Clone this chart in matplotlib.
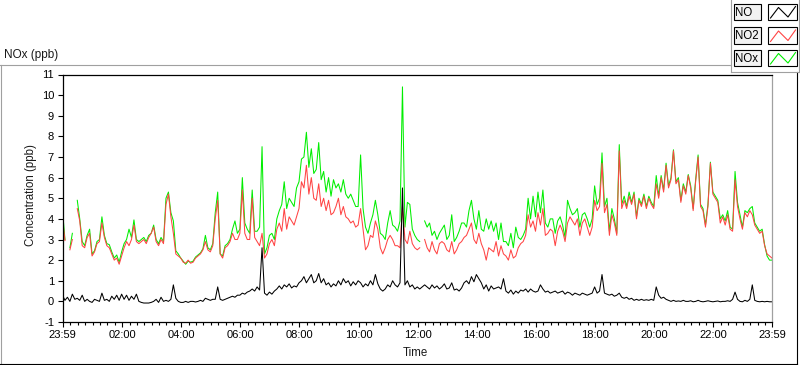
import numpy as np
import matplotlib
matplotlib.use("Agg")
import matplotlib.pyplot as plt
from matplotlib.lines import Line2D
from matplotlib.patches import Rectangle

plt.rcParams["font.family"] = ["Liberation Sans", "DejaVu Sans"]

nan = float("nan")

# one sample every 5 minutes, starting at 23:59 of the previous day
SAMPLE_MIN = 5

no_ppb = [
    0.3, 0.05, 0.2, 0.0, 0.35, 0.1, 0.15, 0.05, 0.3, 0.0, 0.1, 0.0,
    -0.05, 0.1, 0.05, 0.0, 0.4, 0.05, 0.1, 0.0, 0.25, 0.1, 0.3, 0.05,
    0.35, 0.1, 0.3, 0.05, 0.25, 0.1, 0.35, 0.0, -0.05, -0.08, -0.08, -0.08,
    -0.05, 0.0, 0.1, -0.05, 0.2, 0.0, 0.05, 0.0, 0.1, 0.8, 0.15, 0.0,
    -0.05, -0.05, 0.0, -0.05, 0.0, 0.0, -0.03, 0.0, 0.05, 0.0, 0.15, 0.1,
    0.05, 0.1, 0.1, 0.7, 0.1, 0.05, 0.1, 0.15, 0.2, 0.25, 0.2, 0.3,
    0.3, 0.4, 0.35, 0.45, 0.5, 0.6, 0.5, 0.7, 0.55, 2.6, 0.4, 0.3,
    0.45, 0.35, 0.5, 0.6, 0.75, 0.6, 0.8, 0.7, 0.85, 0.65, 0.75, 0.7,
    0.9, 1.0, 1.2, 0.9, 1.1, 1.3, 0.9, 1.0, 1.35, 0.9, 1.1, 0.8,
    0.9, 0.7, 0.85, 0.75, 1.0, 0.8, 1.1, 0.9, 1.0, 0.75, 0.95, 0.8,
    1.0, 0.9, 0.7, 0.85, 0.75, 1.0, 0.8, 1.3, 0.85, 0.6, 0.5, 0.6,
    0.8, 0.7, 1.0, 0.8, 0.7, 0.9, 5.5, 0.8, 1.0, 0.7, 0.8, 0.6,
    0.7, 0.6, 0.7, 0.8, 0.7, 0.6, 0.8, 0.65, 0.75, 0.6, 0.7, 0.85,
    0.6, 0.65, 0.9, 0.55, 0.6, 0.5, 0.65, 0.9, 1.0, 0.85, 1.2, 0.95,
    1.3, 1.1, 0.9, 0.6, 0.8, 0.5, 0.75, 0.6, 0.65, 0.7, 0.6, 1.1,
    0.5, 0.4, 0.55, 0.35, 0.5, 0.4, 0.55, 0.5, 0.6, 0.45, 0.6, 0.5,
    0.45, 0.5, 0.8, 0.6, 0.45, 0.5, 0.4, 0.45, 0.5, 0.4, 0.45, 0.5,
    0.35, 0.45, 0.4, 0.3, 0.4, 0.35, 0.3, 0.4, 0.35, 0.3, 0.35, 0.4,
    0.7, 0.4, 0.5, 1.3, 0.4, 0.35, 0.3, 0.35, 0.25, 0.3, 0.4, 0.2,
    0.15, 0.2, 0.1, 0.15, 0.05, 0.1, 0.05, 0.1, 0.05, 0.08, 0.05, 0.1,
    0.05, 0.7, 0.3, 0.15, 0.2, 0.1, 0.05, 0.0, 0.05, 0.0, 0.02, 0.0,
    0.05, 0.0, 0.0, 0.03, -0.02, 0.0, 0.05, 0.0, -0.02, 0.0, 0.03, 0.0,
    -0.02, 0.0, 0.02, -0.02, 0.0, 0.0, 0.03, 0.0, 0.1, 0.45, 0.1, 0.0,
    -0.02, 0.05, 0.0, 0.1, 0.8, 0.05, 0.0, -0.02, 0.0, -0.02, 0.0, -0.02,
    -0.02,
]

no2_ppb = [
    4.0, 2.95, nan, 2.5, 3.0, nan, 4.5, 3.9, 2.7, 2.6, 3.1, 3.3,
    2.2, 2.4, 2.8, 2.9, 3.8, 3.1, 2.7, 2.6, 2.3, 2.0, 2.1, 1.8,
    2.2, 2.6, 2.9, 2.7, 3.0, 3.7, 2.9, 2.8, 2.9, 3.0, 2.8, 3.1,
    3.3, 3.6, 2.9, 2.7, 3.0, 2.8, 4.7, 5.2, 4.1, 3.3, 2.3, 2.2,
    2.1, 1.9, 1.85, 2.0, 1.85, 1.9, 2.1, 2.2, 2.3, 2.5, 2.9, 2.5,
    2.4, 2.7, 4.0, 4.9, 2.3, 2.1, 2.6, 2.7, 2.9, 3.3, 3.0, 3.0,
    3.3, 5.4, 3.3, 3.0, 3.0, 5.0, 3.1, 2.9, 2.7, 3.3, 2.1, 2.3,
    2.8, 3.0, 2.7, 3.5, 3.8, 3.4, 4.5, 3.5, 4.1, 3.9, 3.7, 4.1,
    4.5, 5.8, 5.5, 6.6, 5.2, 6.0, 5.0, 4.9, 5.7, 4.6, 5.0, 4.4,
    4.9, 4.2, 4.3, 4.6, 5.0, 4.2, 4.6, 4.1, 4.0, 3.8, 3.9, 3.6,
    3.7, 4.5, 3.5, 2.5, 2.7, 3.2, 3.1, 3.9, 3.5, 2.6, 2.3, 2.6,
    3.0, 3.2, 3.0, 2.7, 2.7, 2.6, 4.6, 3.0, 2.8, 3.4, 2.8, 2.6,
    2.5, 2.6, nan, 3.0, 2.6, 2.4, 2.9, 2.5, 2.3, 2.8, 2.9, 2.8,
    2.5, 2.4, 2.9, 2.3, 2.5, 2.8, 2.9, 3.1, 3.2, 3.5, 3.8, 3.0,
    2.8, 3.3, 2.8, 2.5, 2.0, 2.6, 2.5, 2.4, 2.9, 2.2, 2.7, 2.3,
    2.2, 2.0, 2.5, 2.1, 2.2, 2.6, 2.8, 2.9, 3.2, 4.2, 3.6, 3.9,
    3.4, 4.3, 3.7, 4.5, 3.2, 3.3, 3.5, 3.4, 2.7, 3.4, 3.7, 3.4,
    2.9, 3.8, 4.1, 3.9, 3.7, 4.0, 3.2, 3.8, 4.0, 3.6, 3.2, 3.6,
    4.9, 4.4, 4.6, 6.7, 4.3, 4.7, 3.2, 4.2, 3.8, 3.2, 7.3, 4.5,
    4.9, 4.5, 5.1, 4.7, 5.2, 4.0, 4.9, 4.6, 5.1, 4.5, 5.0, 4.7,
    4.5, 5.7, 5.0, 6.0, 5.3, 6.6, 5.5, 5.9, 7.3, 5.7, 5.9, 4.8,
    5.6, 5.2, 6.1, 5.5, 4.4, 5.8, 7.0, 4.6, 4.4, 3.6, 4.6, 6.7,
    5.2, 5.0, 4.8, 3.8, 4.1, 3.7, 4.2, 3.5, 3.4, 5.9, 4.6, 4.0,
    3.5, 4.3, 4.1, 4.4, 4.2, 3.7, 3.5, 3.3, 3.4, 2.7, 2.3, 2.2,
    2.1,
]

nox_ppb = [
    4.4, 3.0, nan, 2.6, 3.3, nan, 4.9, 4.0, 2.9, 2.7, 3.2, 3.5,
    2.3, 2.45, 2.9, 3.0, 4.1, 3.2, 2.8, 2.75, 2.4, 2.1, 2.25, 1.9,
    2.4, 2.8, 3.0, 3.5, 3.1, 3.95, 3.0, 2.9, 3.0, 3.1, 2.9, 3.2,
    3.3, 3.7, 3.0, 2.8, 3.1, 2.9, 5.0, 5.3, 4.3, 3.9, 2.45, 2.3,
    2.1, 1.95, 1.8, 1.95, 1.9, 1.95, 2.15, 2.25, 2.35, 2.55, 3.2, 2.6,
    2.5, 2.8, 4.3, 5.3, 2.3, 2.2, 2.7, 2.8, 3.0, 3.5, 3.9, 3.3,
    3.5, 6.0, 3.8, 3.5, 3.3, 5.4, 3.4, 3.4, 3.6, 7.5, 2.3, 2.6,
    3.2, 3.3, 3.0, 4.0, 4.4, 4.7, 5.8, 4.5, 5.0, 4.8, 4.6, 5.5,
    5.8, 6.9, 7.0, 8.2, 6.5, 7.4, 6.2, 6.4, 7.7, 5.9, 6.3, 5.3,
    6.0, 5.1, 5.9, 5.5, 5.7, 5.3, 5.9, 5.2, 5.0, 5.2, 4.9, 4.6,
    4.6, 7.1, 4.5, 3.6, 3.3, 3.8, 4.2, 4.9, 4.2, 3.3, 3.2, 3.0,
    3.8, 4.4, 3.7, 3.6, 3.4, 3.9, 10.4, 3.6, 4.8, 4.7, 3.5, 3.2,
    3.0, 2.9, nan, 3.9, 3.6, 3.8, 3.2, 3.4, 3.0, 3.3, 3.5, 3.7,
    3.0, 3.2, 4.2, 2.9, 3.1, 3.4, 3.8, 3.8, 3.6, 4.4, 4.9, 4.0,
    3.5, 4.4, 3.5, 3.4, 4.0, 3.5, 3.9, 3.4, 3.8, 3.0, 3.8, 2.9,
    2.9, 2.7, 3.3, 2.6, 3.6, 3.1, 3.0, 3.2, 3.5, 5.0, 4.0, 5.1,
    4.1, 5.3, 4.3, 5.4, 3.8, 3.6, 4.0, 4.0, 3.3, 3.9, 4.1, 3.7,
    3.1, 4.9, 4.5, 4.2, 4.3, 4.5, 3.6, 4.2, 4.3, 4.0, 3.6, 4.0,
    5.6, 4.7, 5.0, 7.2, 4.6, 5.0, 3.4, 4.5, 4.0, 3.3, 7.6, 4.7,
    5.1, 4.6, 5.3, 4.8, 5.3, 4.1, 5.0, 4.7, 5.2, 4.6, 5.1, 4.8,
    4.6, 6.1, 5.1, 6.1, 5.4, 6.7, 5.6, 6.0, 7.35, 5.8, 6.0, 4.9,
    5.7, 5.3, 6.15, 5.6, 4.5, 5.9, 7.1, 4.7, 4.5, 3.7, 4.7, 6.75,
    5.3, 5.1, 4.9, 4.0, 4.2, 3.9, 4.4, 3.6, 3.5, 6.3, 4.8, 4.2,
    3.6, 4.4, 4.3, 4.5, 4.6, 3.8, 3.6, 3.4, 3.5, 2.75, 2.2, 2.0,
    2.0,
]

# minutes after 23:59
tick_minutes = [0, 121, 241, 361, 481, 601, 721, 841, 961, 1081, 1201, 1321, 1440]
tick_labels = ["23:59", "02:00", "04:00", "06:00", "08:00", "10:00", "12:00",
               "14:00", "16:00", "18:00", "20:00", "22:00", "23:59"]
y_ticks = list(range(-1, 12))

series_names = ["NO", "NO2", "NOx"]
series_colors = ["#000000", "#ff4444", "#00ee00"]

W, H = 800, 365


def fx(x):
    return x / W


def fy(y):
    return 1 - y / H


fig = plt.figure(figsize=(W / 100, H / 100), dpi=100)
fig.patch.set_facecolor("white")

ax = fig.add_axes([fx(62.5), fy(322), (772 - 62.5) / W, (322 - 74.5) / H])

t = np.arange(len(no_ppb)) * SAMPLE_MIN
ax.plot(t, nox_ppb, color=series_colors[2], lw=0.75)
ax.plot(t, no2_ppb, color=series_colors[1], lw=0.75)
ax.plot(t, no_ppb, color=series_colors[0], lw=0.75)

ax.set_xlim(0, 1440)
ax.set_ylim(-1, 11)
ax.set_yticks(y_ticks)
ax.set_yticklabels([str(v) for v in y_ticks])
ax.set_xticks(tick_minutes)
ax.set_xticklabels(tick_labels)
minor = [1 + 15 * k for k in range(1, 96) if k % 8 != 0]
ax.set_xticks(minor, minor=True)

for side in ["top", "left", "bottom"]:
    ax.spines[side].set_color("black")
    ax.spines[side].set_linewidth(0.9)
ax.spines["right"].set_color("#a0a0a0")
ax.spines["right"].set_linewidth(0.9)

ax.tick_params(which="major", direction="out", length=3.6, width=0.8,
               labelsize=8, pad=2.5, colors="black")
ax.tick_params(which="minor", direction="out", length=2.2, width=0.8, colors="black")
ax.tick_params(axis="y", which="minor", left=False)

fig.text(fx(31), fy(195), "Concentration (ppb)", rotation=90, ha="center",
         va="center", fontsize=8.3, color="#1a1a1a")
fig.text(fx(415), fy(353), "Time", ha="center", va="center", fontsize=8.3,
         color="#1a1a1a")
fig.text(fx(4), fy(55), "NOx (ppb)", ha="left", va="center", fontsize=8.5,
         color="#1a1a1a")

# panel frame (sunken look)
gray = "#a0a0a0"
frame = [
    ([0, 731], [65, 65], gray),
    ([0.5, 0.5], [65, 364], gray),
    ([0, 797], [363.5, 363.5], "black"),
    ([796.5, 796.5], [72, 364], "black"),
    ([731, 731], [0, 72], gray),
    ([731, 800], [71.5, 71.5], gray),
    ([798.5, 798.5], [0, 72], gray),
]
for xs, ys, c in frame:
    fig.add_artist(Line2D([fx(x) for x in xs], [fy(y) for y in ys],
                          transform=fig.transFigure, color=c, lw=0.8))

# legend
row_tops = [4, 27.5, 50]
box_h = 16
for name, color, top in zip(series_names, series_colors, row_tops):
    fig.add_artist(Rectangle((fx(733.5), fy(top + box_h)), 27.5 / W, box_h / H,
                             transform=fig.transFigure, facecolor="#f2f2f2",
                             edgecolor="black", lw=0.8))
    fig.text(fx(735.5), fy(top + box_h / 2 + 0.5), name, ha="left", va="center",
             fontsize=8.3, color="black")
    fig.add_artist(Rectangle((fx(768), fy(top + box_h)), 29 / W, box_h / H,
                             transform=fig.transFigure, facecolor="white",
                             edgecolor="black", lw=0.8))
    zx = [770.5, 778.5, 788, 795.5]
    zy = [top + 14, top + 3.5, top + 13, top + 2.5]
    fig.add_artist(Line2D([fx(x) for x in zx], [fy(y) for y in zy],
                          transform=fig.transFigure, color=color, lw=0.8))

fig.savefig("out.png", dpi=100)
